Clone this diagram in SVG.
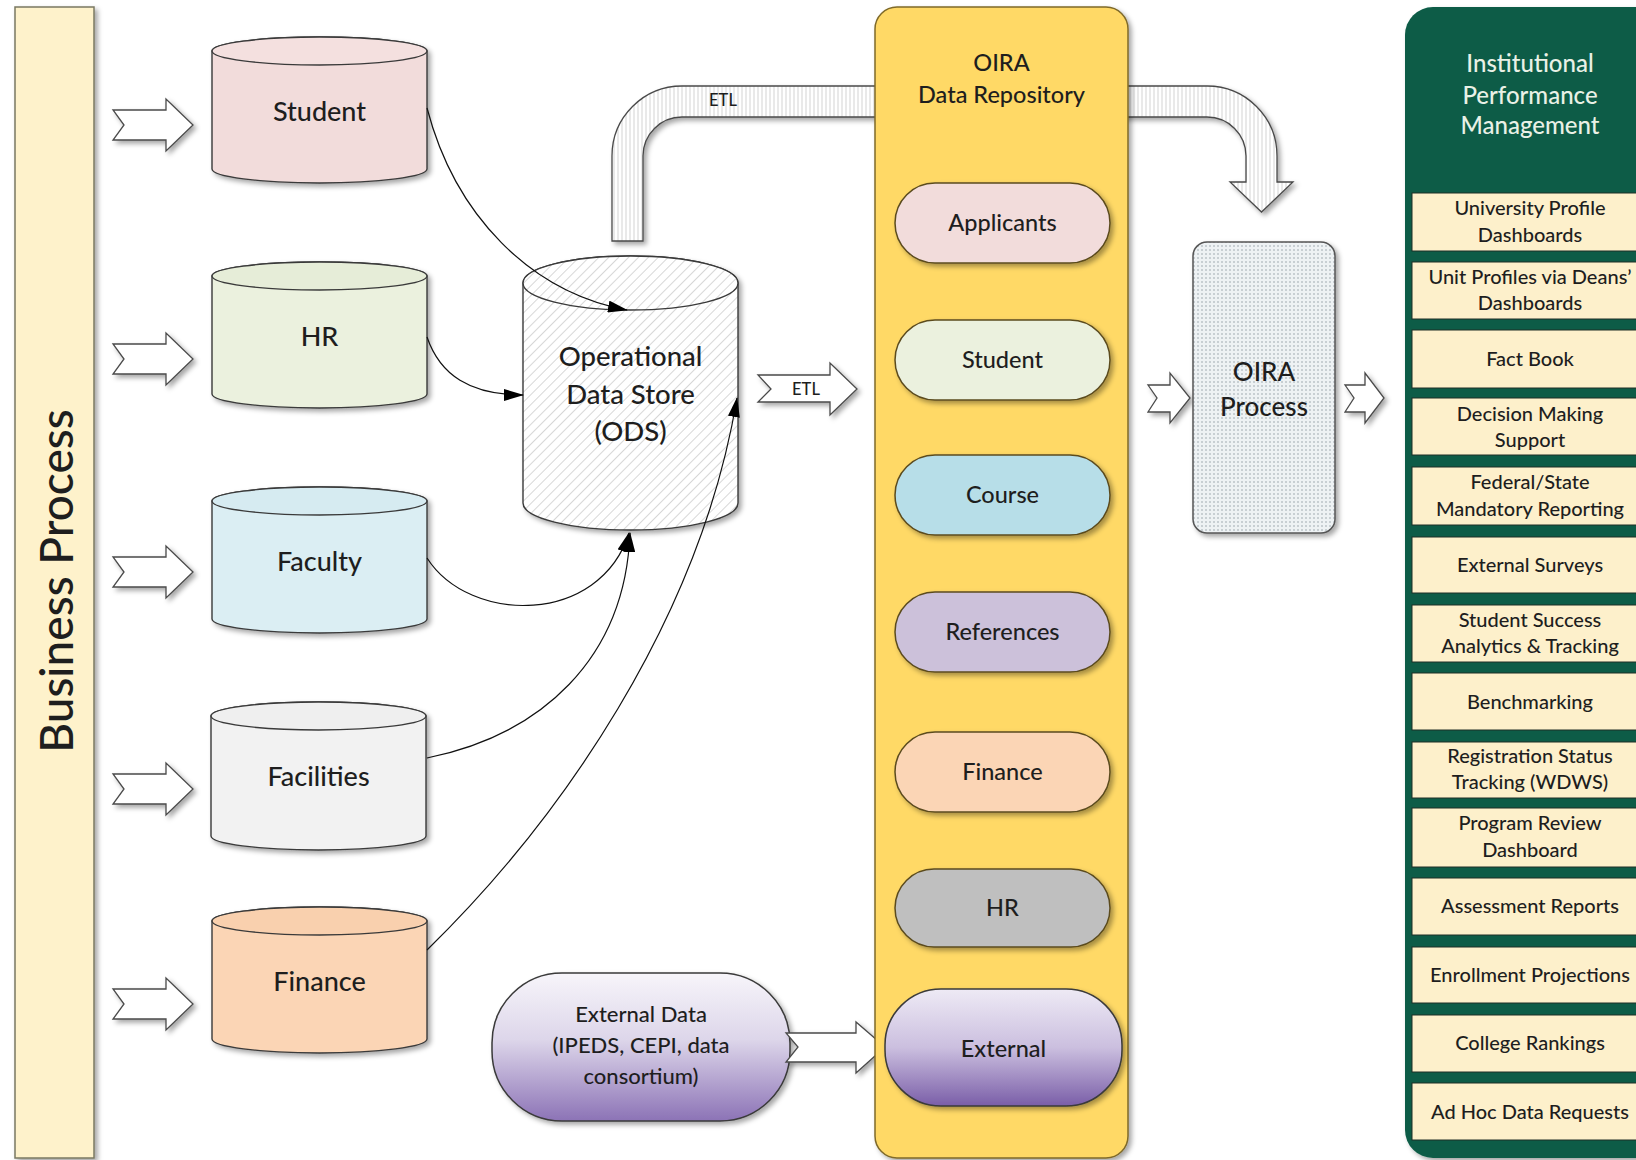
<svg xmlns="http://www.w3.org/2000/svg" width="1636" height="1160" viewBox="0 0 1636 1160">
<style>
.t{font-family:Lato,'Liberation Sans',sans-serif;fill:#1e1e1e;text-anchor:middle;font-weight:500}
.cyl{stroke:#3a3a3a;stroke-width:1.4}
.shd{filter:url(#sh)}
.chev{fill:#fff;stroke:#4a4a4a;stroke-width:1.3;filter:url(#sh)}
.conn{fill:none;stroke:#111;stroke-width:1.2}
.pill{stroke:#5b4b1f;stroke-width:1.5;filter:url(#sh)}
.box{fill:#fdf0cb;stroke:#1e2e26;stroke-width:1}
.bt{font-size:20px}
.ct{font-size:27px}
.pt{font-size:23.5px}
.wt{fill:#e9f1e6}
</style>
<defs>
<filter id="sh" x="-20%" y="-20%" width="140%" height="140%"><feDropShadow dx="3" dy="3" stdDeviation="2.5" flood-color="#000" flood-opacity="0.35"/></filter>
<pattern id="hatch" width="7" height="7" patternUnits="userSpaceOnUse" patternTransform="rotate(45)"><rect width="7" height="7" fill="#fff"/><line x1="0" y1="0" x2="0" y2="7" stroke="#c6c6c6" stroke-width="1.4"/></pattern>
<pattern id="dots" width="4" height="4" patternUnits="userSpaceOnUse"><rect width="4" height="4" fill="#eef2f4"/><circle cx="2" cy="2" r="0.8" fill="#98a4a9"/></pattern>
<pattern id="stripes" width="4" height="4" patternUnits="userSpaceOnUse"><rect width="4" height="4" fill="#fff"/><line x1="2" y1="0" x2="2" y2="4" stroke="#d4d4d4" stroke-width="1"/></pattern>
<linearGradient id="purpleA" x1="0" y1="0" x2="0" y2="1"><stop offset="0" stop-color="#f7f5fa"/><stop offset="0.45" stop-color="#ddd6ea"/><stop offset="1" stop-color="#8c73b6"/></linearGradient>
<linearGradient id="purpleB" x1="0" y1="0" x2="0" y2="1"><stop offset="0" stop-color="#eeeaf5"/><stop offset="0.5" stop-color="#cbbfdf"/><stop offset="1" stop-color="#7a5ea8"/></linearGradient>
<marker id="arr" markerWidth="20" markerHeight="12" refX="19" refY="6" orient="auto" markerUnits="userSpaceOnUse"><path d="M0,0 L20,6 L0,12 Z" fill="#000"/></marker>
</defs>
<rect width="1636" height="1160" fill="#fff"/>

<g id="business-process">
<rect x="15" y="7" width="79" height="1151" fill="#fef2cb" stroke="#7a7862" stroke-width="1.5" class="shd"/>
<text class="t" font-size="46" fill="#333" transform="translate(57,581) rotate(-90)" x="0" y="16">Business Process</text>
</g>

<g id="db-student" transform="translate(212,51)">
<path class="cyl shd" fill="#f2dcdb" d="M0,0 L0,118 A107.5,14 0 0 0 215,118 L215,0 A107.5,14 0 0 0 0,0 Z"/>
<ellipse class="cyl" cx="107.5" cy="0" rx="107.5" ry="14" fill="#f4e0df"/>
<text class="t ct" x="107.5" y="70">Student</text>
</g>
<g id="db-hr" transform="translate(212,276)">
<path class="cyl shd" fill="#ebf1de" d="M0,0 L0,118 A107.5,14 0 0 0 215,118 L215,0 A107.5,14 0 0 0 0,0 Z"/>
<ellipse class="cyl" cx="107.5" cy="0" rx="107.5" ry="14" fill="#e6edd8"/>
<text class="t ct" x="107.5" y="70">HR</text>
</g>
<g id="db-faculty" transform="translate(212,501)">
<path class="cyl shd" fill="#dbeef3" d="M0,0 L0,118 A107.5,14 0 0 0 215,118 L215,0 A107.5,14 0 0 0 0,0 Z"/>
<ellipse class="cyl" cx="107.5" cy="0" rx="107.5" ry="14" fill="#d6ebf1"/>
<text class="t ct" x="107.5" y="70">Faculty</text>
</g>
<g id="db-facilities" transform="translate(211,716)">
<path class="cyl shd" fill="#f2f2f2" d="M0,0 L0,120 A107.5,14 0 0 0 215,120 L215,0 A107.5,14 0 0 0 0,0 Z"/>
<ellipse class="cyl" cx="107.5" cy="0" rx="107.5" ry="14" fill="#efefef"/>
<text class="t ct" x="107.5" y="70">Facilities</text>
</g>
<g id="db-finance" transform="translate(212,921)">
<path class="cyl shd" fill="#fbd5b5" d="M0,0 L0,118 A107.5,14 0 0 0 215,118 L215,0 A107.5,14 0 0 0 0,0 Z"/>
<ellipse class="cyl" cx="107.5" cy="0" rx="107.5" ry="14" fill="#f9d0ae"/>
<text class="t ct" x="107.5" y="70">Finance</text>
</g>

<g id="ods" transform="translate(523,283)">
<path class="cyl shd" fill="url(#hatch)" d="M0,0 L0,220 A107.5,27 0 0 0 215,220 L215,0 A107.5,27 0 0 0 0,0 Z"/>
<ellipse class="cyl" cx="107.5" cy="0" rx="107.5" ry="27" fill="url(#hatch)"/>
<text class="t" font-size="27.5" x="107.5" y="83">Operational</text>
<text class="t" font-size="27.5" x="107.5" y="121">Data Store</text>
<text class="t" font-size="27.5" x="107.5" y="158">(ODS)</text>
</g>

<g id="external-data">
<rect x="492" y="973" width="298" height="148" rx="70" fill="url(#purpleA)" stroke="#3a3a3a" stroke-width="1.5" class="shd"/>
<text class="t" font-size="22" x="641" y="1022">External Data</text>
<text class="t" font-size="22" x="641" y="1053">(IPEDS, CEPI, data</text>
<text class="t" font-size="22" x="641" y="1084">consortium)</text>
</g>

<g id="connectors">
<path class="conn" marker-end="url(#arr)" d="M427,108 C455,215 530,292 627,310"/>
<path class="conn" marker-end="url(#arr)" d="M427,337 C440,375 470,395 523,395"/>
<path class="conn" marker-end="url(#arr)" d="M427,558 C470,625 600,625 629,533"/>
<path class="conn" marker-end="url(#arr)" d="M427,758 C540,735 625,660 630,533"/>
<path class="conn" marker-end="url(#arr)" d="M427,950 C560,820 700,620 737,398"/>
<path d="M113,110 L166,110 L166,99 L193,125 L166,151 L166,140 L113,140 L124,125 Z" class="chev"/>
<path d="M113,344 L166,344 L166,333 L193,359 L166,385 L166,374 L113,374 L124,359 Z" class="chev"/>
<path d="M113,557 L166,557 L166,546 L193,572 L166,598 L166,587 L113,587 L124,572 Z" class="chev"/>
<path d="M113,774 L166,774 L166,763 L193,789 L166,815 L166,804 L113,804 L124,789 Z" class="chev"/>
<path d="M113,989 L166,989 L166,978 L193,1004 L166,1030 L166,1019 L113,1019 L124,1004 Z" class="chev"/>
<path d="M612,241 L612,156 A70,70 0 0 1 682,86 L1207,86 A70,70 0 0 1 1277,156 L1277,182 L1293,182 L1261.5,212 L1230,182 L1246,182 L1246,156 A39,39 0 0 0 1207,117 L682,117 A39,39 0 0 0 643,156 L643,241 Z" fill="url(#stripes)" stroke="#4a4a4a" stroke-width="1.3" class="shd"/>
<text class="t" font-size="16.5" x="723" y="106">ETL</text>
<path d="M758,375 L830,375 L830,363 L857,389 L830,415 L830,402 L758,402 L771,389 Z" class="chev"/>
<text class="t" font-size="16.5" x="806" y="395">ETL</text>
<path d="M786,1033 L856,1033 L856,1022 L885,1047 L856,1073 L856,1062 L786,1062 L798,1047 Z" class="chev"/>
<path d="M1148,385 L1170,385 L1170,373 L1190,398 L1170,423 L1170,412 L1148,412 L1157,398 Z" class="chev"/>
<path d="M1345,385 L1365,385 L1365,373 L1384,398 L1365,423 L1365,412 L1345,412 L1354,398 Z" class="chev"/>
</g>

<g id="oira-repository">
<rect x="875" y="7" width="253" height="1151" rx="22" fill="#ffd966" stroke="#7f6a2a" stroke-width="1.5" class="shd"/>
<text class="t" font-size="23.5" x="1001.5" y="71">OIRA</text>
<text class="t" font-size="23.5" x="1001.5" y="103">Data Repository</text>
</g>
<g id="rep-applicants"><rect class="pill" x="895" y="183" width="215" height="80" rx="40" fill="#f2dcdb"/><text class="t pt" x="1002.5" y="231">Applicants</text></g>
<g id="rep-student"><rect class="pill" x="895" y="320" width="215" height="80" rx="40" fill="#ebf1de"/><text class="t pt" x="1002.5" y="368">Student</text></g>
<g id="rep-course"><rect class="pill" x="895" y="455" width="215" height="80" rx="40" fill="#b7dee8"/><text class="t pt" x="1002.5" y="503">Course</text></g>
<g id="rep-references"><rect class="pill" x="895" y="592" width="215" height="80" rx="40" fill="#ccc1da"/><text class="t pt" x="1002.5" y="640">References</text></g>
<g id="rep-finance"><rect class="pill" x="895" y="732" width="215" height="80" rx="40" fill="#fbd5b5"/><text class="t pt" x="1002.5" y="780">Finance</text></g>
<g id="rep-hr"><rect class="pill" x="895" y="869" width="215" height="78" rx="39" fill="#bfbfbf"/><text class="t pt" x="1002.5" y="916">HR</text></g>
<g id="rep-external"><rect x="885" y="989" width="237" height="117" rx="56" fill="url(#purpleB)" stroke="#3a3a3a" stroke-width="1.5" class="shd"/><text class="t pt" x="1003.5" y="1057">External</text></g>

<g id="oira-process">
<rect x="1193" y="242" width="142" height="291" rx="14" fill="url(#dots)" stroke="#555" stroke-width="1.5" class="shd"/>
<text class="t" font-size="26" x="1264" y="381">OIRA</text>
<text class="t" font-size="26" x="1264" y="416">Process</text>
</g>

<g id="ipm">
<rect x="1405" y="7" width="260" height="1151" rx="28" fill="#0b5c46" class="shd"/>
<text class="t wt" font-size="24" x="1530" y="72">Institutional</text>
<text class="t wt" font-size="24" x="1530" y="104">Performance</text>
<text class="t wt" font-size="24" x="1530" y="134">Management</text>
</g>
<g id="ipm-items">
<g id="item-1"><rect class="box" x="1412" y="193" width="240" height="58"/><text class="t bt" x="1530" y="215">University Profile</text><text class="t bt" x="1530" y="242">Dashboards</text></g>
<g id="item-2"><rect class="box" x="1412" y="262" width="240" height="57"/><text class="t bt" x="1530" y="284">Unit Profiles via Deans’</text><text class="t bt" x="1530" y="310">Dashboards</text></g>
<g id="item-3"><rect class="box" x="1412" y="330" width="240" height="58"/><text class="t bt" x="1530" y="366">Fact Book</text></g>
<g id="item-4"><rect class="box" x="1412" y="398" width="240" height="57"/><text class="t bt" x="1530" y="421">Decision Making</text><text class="t bt" x="1530" y="447">Support</text></g>
<g id="item-5"><rect class="box" x="1412" y="467" width="240" height="58"/><text class="t bt" x="1530" y="489">Federal/State</text><text class="t bt" x="1530" y="516">Mandatory Reporting</text></g>
<g id="item-6"><rect class="box" x="1412" y="537" width="240" height="56"/><text class="t bt" x="1530" y="572">External Surveys</text></g>
<g id="item-7"><rect class="box" x="1412" y="605" width="240" height="57"/><text class="t bt" x="1530" y="627">Student Success</text><text class="t bt" x="1530" y="653">Analytics &amp; Tracking</text></g>
<g id="item-8"><rect class="box" x="1412" y="673" width="240" height="57"/><text class="t bt" x="1530" y="709">Benchmarking</text></g>
<g id="item-9"><rect class="box" x="1412" y="742" width="240" height="56"/><text class="t bt" x="1530" y="763">Registration Status</text><text class="t bt" x="1530" y="789">Tracking (WDWS)</text></g>
<g id="item-10"><rect class="box" x="1412" y="808" width="240" height="59"/><text class="t bt" x="1530" y="830">Program Review</text><text class="t bt" x="1530" y="857">Dashboard</text></g>
<g id="item-11"><rect class="box" x="1412" y="878" width="240" height="57"/><text class="t bt" x="1530" y="913">Assessment Reports</text></g>
<g id="item-12"><rect class="box" x="1412" y="947" width="240" height="56"/><text class="t bt" x="1530" y="982">Enrollment Projections</text></g>
<g id="item-13"><rect class="box" x="1412" y="1015" width="240" height="57"/><text class="t bt" x="1530" y="1050">College Rankings</text></g>
<g id="item-14"><rect class="box" x="1412" y="1083" width="240" height="57"/><text class="t bt" x="1530" y="1119">Ad Hoc Data Requests</text></g>
</g>
</svg>
